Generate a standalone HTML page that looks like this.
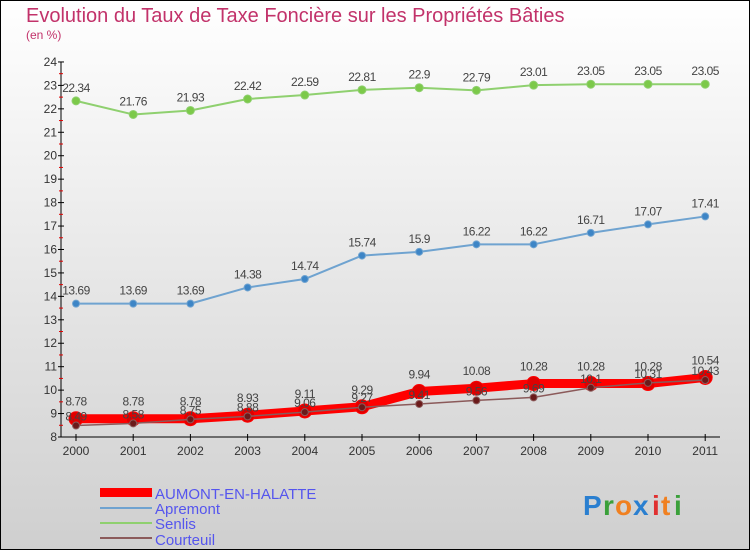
<!DOCTYPE html>
<html><head><meta charset="utf-8"><style>
body{margin:0;width:750px;height:550px;overflow:hidden;font-family:"Liberation Sans",sans-serif}
</style></head><body>
<svg width="750" height="550" xmlns="http://www.w3.org/2000/svg">
<defs><linearGradient id="bg" x1="0" y1="0" x2="0" y2="1"><stop offset="0" stop-color="#ffffff"/><stop offset="1" stop-color="#cfcfcf"/></linearGradient></defs>
<rect x="0.5" y="0.5" width="749" height="549" fill="url(#bg)" stroke="#000"/>
<text x="26" y="22" font-size="20" fill="#c2326a">Evolution du Taux de Taxe Foncière sur les Propriétés Bâties</text>
<text x="26" y="39" font-size="12" fill="#c2326a">(en %)</text>
<g id="axes"></g><g id="series"></g>
<g>
<rect x="100" y="488" width="52" height="9" fill="#f00"/>
<text x="155" y="499" font-size="15" fill="#5555ee">AUMONT-EN-HALATTE</text>
<line x1="100" y1="508" x2="152" y2="508" stroke="#6fa3d0" stroke-width="2"/>
<text x="155" y="514" font-size="15" fill="#5555ee">Apremont</text>
<line x1="100" y1="523" x2="152" y2="523" stroke="#8fd06f" stroke-width="2"/>
<text x="155" y="529" font-size="15" fill="#5555ee">Senlis</text>
<line x1="100" y1="538" x2="152" y2="538" stroke="#8b5a5a" stroke-width="2"/>
<text x="155" y="545" font-size="15" fill="#5555ee">Courteuil</text>
</g>
<g font-size="28" font-weight="bold">
<text x="583" y="515" fill="#2a7fd0">P</text><text x="603" y="515" fill="#3aa03a">r</text><text x="615" y="515" fill="#f08020">o</text><text x="633" y="515" fill="#2a7fd0">x</text><text x="652" y="515" fill="#e03030">i</text><text x="661" y="515" fill="#f08020">t</text><text x="674" y="515" fill="#3aa03a">i</text>
</g>
</svg>
<script>
const years=["2000","2001","2002","2003","2004","2005","2006","2007","2008","2009","2010","2011"];
const yTicks=[8,9,10,11,12,13,14,15,16,17,18,19,20,21,22,23,24];
const aumont=[8.78,8.78,8.78,8.93,9.11,9.29,9.94,10.08,10.28,10.28,10.28,10.54];
const apremont=[13.69,13.69,13.69,14.38,14.74,15.74,15.9,16.22,16.22,16.71,17.07,17.41];
const senlis=[22.34,21.76,21.93,22.42,22.59,22.81,22.9,22.79,23.01,23.05,23.05,23.05];
const courteuil=[8.49,8.58,8.75,8.88,9.06,9.27,9.41,9.56,9.69,10.1,10.31,10.43];
const NS="http://www.w3.org/2000/svg";
const X=i=>76+i*57.2, Y=v=>437-(v-8)*23.44;
function mk(t,a,p){const e=document.createElementNS(NS,t);for(const k in a)e.setAttribute(k,a[k]);p.appendChild(e);return e;}
const ax=document.getElementById('axes');
const yl=mk('line',{x1:61,y1:Y(24),x2:61,y2:Y(8),stroke:'#000'},ax);


const xl=mk('line',{x1:61,y1:Y(8),x2:720,y2:Y(8),stroke:'#000'},ax);


yTicks.forEach(v=>{
 mk('line',{x1:58,y1:Y(v),x2:64,y2:Y(v),stroke:'#000'},ax);
 if(v<24)mk('line',{x1:59,y1:Y(v+0.5),x2:63,y2:Y(v+0.5),stroke:'#e00000'},ax);
 const t=mk('text',{x:57,y:Y(v)+4,'font-size':12,'text-anchor':'end',fill:'#333'},ax);t.textContent=v;
 
 
});
years.forEach((y,i)=>{
 mk('line',{x1:X(i),y1:Y(8)-3,x2:X(i),y2:Y(8)+4,stroke:'#000'},ax);
 const t=mk('text',{x:X(i),y:Y(8)+18,'font-size':12,'text-anchor':'middle',fill:'#333'},ax);t.textContent=y;
 
 
});
const sg=document.getElementById('series');
function draw(name,vals,color,w,r,dot,lblOff){
 const g=mk('g',{},sg);
 
 
 mk('polyline',{points:vals.map((v,i)=>X(i)+','+Y(v)).join(' '),fill:'none',stroke:color,'stroke-width':w,'stroke-linejoin':'round'},g);
 vals.forEach((v,i)=>{
  const c=mk('circle',{cx:X(i),cy:Y(v),r:r,fill:dot,stroke:color,'stroke-width':1},g);
  
  
  const t=mk('text',{x:X(i),y:Y(v)+lblOff,'font-size':12,'text-anchor':'middle',fill:'#444','letter-spacing':'-0.5'},g);t.textContent=v;
 });
}
draw('senlis',senlis,'#8fd06f',2,4,'#7cc94a',-9);
draw('apremont',apremont,'#6fa3d0',2,3.5,'#3d85c6',-9);
draw('aumont',aumont,'#f00',9,7,'#e00000',-13);
draw('courteuil',courteuil,'#8b5a5a',1.5,3.5,'#6b1a1a',-5);
</script>
</body></html>
